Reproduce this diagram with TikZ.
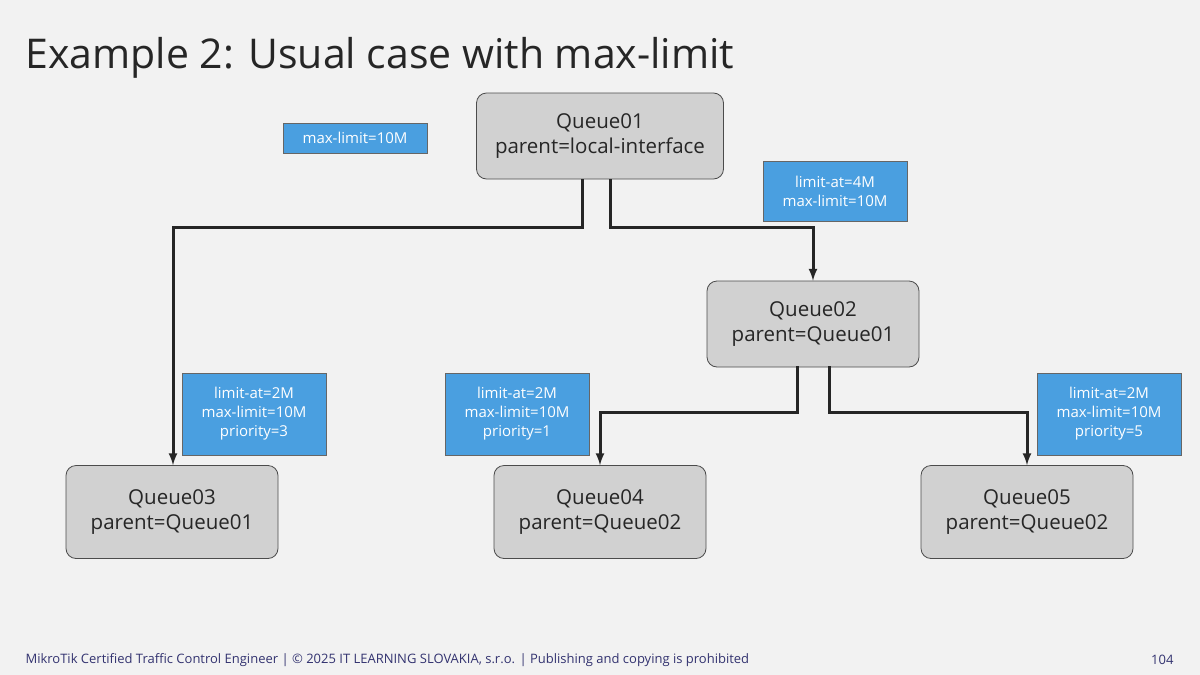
\documentclass[tikz,border=0pt]{standalone}
\usepackage{fontspec}
\setmainfont{Open Sans}
\begin{document}
\begin{tikzpicture}[x=1pt,y=-1pt,
 q/.style={draw=black!70,fill=black!18,rounded corners=10pt,minimum width=212pt,minimum height=86pt,align=center,font=\fontsize{20.5}{25}\selectfont,text=black!85,line width=0.8pt},
 lb/.style={draw=black!60,text=white,align=center,font=\fontsize{15}{19}\selectfont,minimum width=144pt,inner sep=2pt,line width=0.5pt},
 ar/.style={line width=3pt,draw=black!85,-latex}]
\fill[black!5] (0,0) rectangle (1200,675);
\useasboundingbox (0,0) rectangle (1200,675);
\definecolor{lblue}{HTML}{4A9FE0}
\tikzset{lb/.append style={fill=lblue}}
\node[anchor=west,font=\fontsize{41}{48}\selectfont,text=black!85] (title) at (22,58) {Example 2: Usual case with max-limit};
\node[q,minimum width=247pt] (q1) at (600,136) {Queue01\\parent=local-interface};
\node[q] (q2) at (813,324) {Queue02\\parent=Queue01};
\node[q,minimum height=93pt] (q3) at (172,512) {Queue03\\parent=Queue01};
\node[q,minimum height=93pt] (q4) at (600,512) {Queue04\\parent=Queue02};
\node[q,minimum height=93pt] (q5) at (1027,512) {Queue05\\parent=Queue02};
\node[lb,minimum height=30pt] (l0) at (355,138) {max-limit=10M};
\node[lb,minimum height=60pt] (l1) at (835,191) {limit-at=4M\\max-limit=10M};
\node[lb,minimum height=82pt] (l3) at (254,414) {limit-at=2M\\max-limit=10M\\priority=3};
\node[lb,minimum height=82pt] (l4) at (517,414) {limit-at=2M\\max-limit=10M\\priority=1};
\node[lb,minimum height=82pt] (l5) at (1109,414) {limit-at=2M\\max-limit=10M\\priority=5};
\coordinate (a1) at (582,179); \coordinate (a2) at (610,179);
\coordinate (b1) at (797,366); \coordinate (b2) at (829,366);
\draw[ar] (a1) |- (300,227) -| (q3.north -| 173,0);
\draw[ar] (a2) |- (700,227) -| (q2.north);
\draw[ar] (b1) |- (700,412) -| (q4.north);
\draw[ar] (b2) |- (900,412) -| (q5.north);
\node[anchor=west,font=\fontsize{13}{15}\selectfont,text=blue!30!black!80] (foot) at (22,660) {MikroTik Certified Traffic Control Engineer | © 2025 IT LEARNING SLOVAKIA, s.r.o. | Publishing and copying is prohibited};
\node[anchor=east,font=\fontsize{13}{15}\selectfont,text=blue!30!black!80] (pg) at (1177,660) {104};
\end{tikzpicture}
\end{document}
